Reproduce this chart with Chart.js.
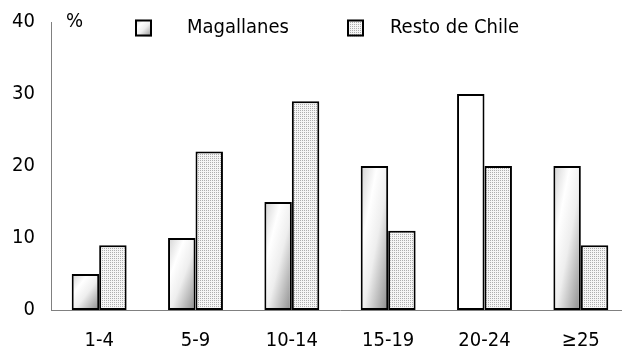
<!DOCTYPE html>
<html>
<head>
<meta charset="utf-8">
<script src="https://cdn.jsdelivr.net/npm/chart.js@4.4.1/dist/chart.umd.min.js"></script>
<style>
  html, body { margin: 0; padding: 0; background: #ffffff; overflow: hidden; }
  #wrap { width: 622px; height: 348px; overflow: hidden; }
</style>
</head>
<body>
<div id="wrap"><canvas id="c" width="630" height="348"></canvas></div>
<script>
// Age groups (years) and share of cases (%) per region
const ageGroups = ['1-4', '5-9', '10-14', '15-19', '20-24', '≥25'];
const magallanes = [5, 10, 15, 20, 30, 20];
const restoDeChile = [9, 22, 29, 11, 20, 9];
const yTicks = [0, 10, 20, 30, 40];
const seriesNames = ['Magallanes', 'Resto de Chile'];
const unitLabel = '%';

// Groups whose Magallanes bar is drawn plain white instead of shaded
const plainGroups = ['20-24'];

const FONT_FAMILY = '"DejaVu Sans Condensed", "DejaVu Sans", sans-serif';
const FONT_SIZE = 20;

Chart.defaults.font.family = FONT_FAMILY;
Chart.defaults.font.size = FONT_SIZE;
Chart.defaults.color = '#000000';

// Fine stipple fill for the "Resto de Chile" bars
function makeStipple() {
  const c = document.createElement('canvas');
  c.width = 2; c.height = 2;
  const g = c.getContext('2d');
  g.fillStyle = '#f5f5f5';
  g.fillRect(0, 0, 2, 2);
  g.fillStyle = '#adadad';
  g.fillRect(0, 0, 1, 1);
  return document.getElementById('c').getContext('2d').createPattern(c, 'repeat');
}
const stipple = makeStipple();

// Corner shading stretched to the rectangle: light edge, white, then grey corner
function cornerShade(ctx, left, top, w, h) {
  const t = 2 * w * h / (w * w + h * h);
  const g = ctx.createLinearGradient(left, top, left + t * h, top + t * w);
  g.addColorStop(0, '#d2d2d2');
  g.addColorStop(0.3, '#ffffff');
  g.addColorStop(0.55, '#eeeeee');
  g.addColorStop(1, '#8a8a8a');
  return g;
}

// Replace each Magallanes bar's fill with a shade fitted to its own size
const barShading = {
  id: 'barShading',
  beforeDatasetsDraw(chart) {
    const meta = chart.getDatasetMeta(0);
    meta.data.forEach((el, i) => {
      const p = el.getProps(['x', 'y', 'base', 'width'], true);
      const left = p.x - p.width / 2;
      const top = Math.min(p.y, p.base);
      const h = Math.abs(p.base - p.y);
      el.options.backgroundColor = plainGroups.includes(ageGroups[i])
        ? '#ffffff'
        : cornerShade(chart.ctx, left, top, p.width, h);
    });
  }
};

// Key boxes across the top and the unit label beside the value axis
const keyAndUnit = {
  id: 'keyAndUnit',
  afterDraw(chart) {
    const ctx = chart.ctx;
    const boxX = [135, 347];
    const textX = [187, 390];
    const cy = 28;
    const size = 17;
    ctx.save();
    ctx.font = FONT_SIZE + 'px ' + FONT_FAMILY;
    ctx.textBaseline = 'middle';
    ctx.textAlign = 'left';
    ctx.fillStyle = '#000000';
    ctx.fillText(unitLabel, 66, 22);
    seriesNames.forEach((name, i) => {
      const x = boxX[i], y = cy - size / 2;
      ctx.fillStyle = i === 0 ? cornerShade(ctx, x, y, size, size) : stipple;
      ctx.fillRect(x, y, size, size);
      ctx.lineWidth = 2;
      ctx.strokeStyle = '#000000';
      ctx.strokeRect(x + 1, y + 1, size - 2, size - 2);
      ctx.fillStyle = '#000000';
      ctx.fillText(name, textX[i], cy);
    });
    ctx.restore();
  }
};

new Chart(document.getElementById('c'), {
  type: 'bar',
  data: {
    labels: ageGroups,
    datasets: [
      {
        label: seriesNames[0],
        data: magallanes,
        backgroundColor: () => '#ffffff',
        borderColor: '#000000',
        borderWidth: 2,
        borderSkipped: false
      },
      {
        label: seriesNames[1],
        data: restoDeChile,
        backgroundColor: stipple,
        borderColor: '#000000',
        borderWidth: 2,
        borderSkipped: false
      }
    ]
  },
  options: {
    responsive: false,
    devicePixelRatio: 1,
    animation: false,
    events: [],
    categoryPercentage: 0.57,
    barPercentage: 1,
    layout: { padding: { top: 22, right: 1, left: 0, bottom: 0 } },
    plugins: {
      legend: { display: false },
      tooltip: { enabled: false }
    },
    scales: {
      x: {
        offset: true,
        grid: { display: false, drawTicks: false },
        border: { display: true, color: '#808080', width: 1 },
        ticks: { padding: 19, color: '#000000' },
        afterFit(s) { s.height = 38; }
      },
      y: {
        min: 0,
        max: 40,
        afterBuildTicks(s) { s.ticks = yTicks.map(v => ({ value: v })); },
        grid: { display: false, drawTicks: false },
        border: { display: true, color: '#808080', width: 1 },
        ticks: { padding: 16, color: '#000000' },
        afterFit(s) { s.width = 51; s.paddingTop = 0; s.paddingBottom = 0; }
      }
    }
  },
  plugins: [barShading, keyAndUnit]
});
</script>
</body>
</html>
